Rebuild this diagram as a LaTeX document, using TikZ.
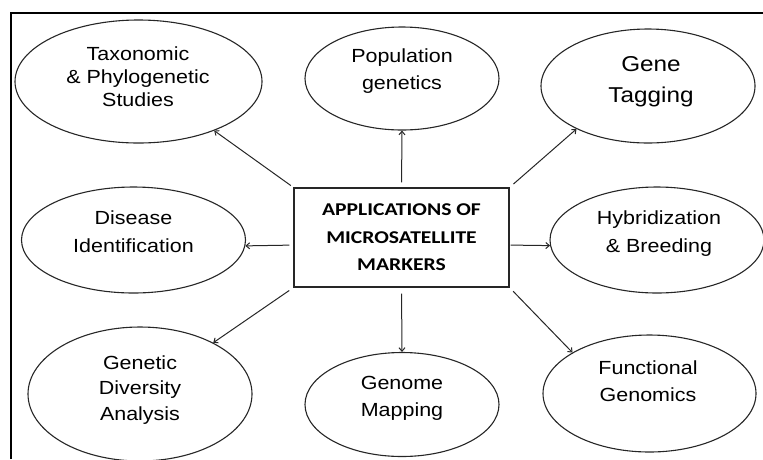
\documentclass[tikz,border=0pt]{standalone}
\usepackage{fontspec}
\usetikzlibrary{shapes.geometric, arrows.meta}
\newfontfamily\bubblefont{Liberation Sans}[FakeStretch=1.13]
\newfontfamily\hubfont{Carlito}[FakeStretch=1.2]

\tikzset{
  bubble/.style={ellipse, draw=black!85, line width=1.1pt, inner sep=0pt},
  bubbletext/.style={align=center, inner sep=0pt, text=black},
  hub/.style={rectangle, draw=black!85, line width=1.3pt, minimum width=215pt,
    minimum height=99pt, align=center, inner sep=0pt,
    font=\hubfont\bfseries\fontsize{18}{27.5}\selectfont},
  link/.style={->, line width=1pt, black!85},
}

\begin{document}
\begin{tikzpicture}[x=1pt, y=-1pt, >={Straight Barb[length=3.5pt,width=6pt]}]
  \useasboundingbox (0,0) rectangle (763,459);

  % ── Outer frame (top and left edges only) ──
  \draw[line width=1.4pt] (11,459) -- (11,13) -- (763,13);

  % ── Centre box ──
  \node[hub] (hub) at (401.5,237.5) {APPLICATIONS OF\\MICROSATELLITE\\MARKERS};

  % ── Application ellipses ──
  \foreach \nm/\cx/\cy/\rx/\ry in {
      tax/138.5/81.5/123.5/61.5,
      pop/402/78.5/97/51.5,
      gene/648/86/107/57,
      dis/133.5/240/112/53,
      hyb/657/240/107/53,
      div/140/394/112/67,
      map/402/404.5/97/52,
      fun/649.5/393.5/106.5/58.5} {
    \node[bubble, minimum width={2*\rx pt}, minimum height={2*\ry pt}] (\nm) at (\cx,\cy) {};
  }

  % ── Ellipse labels ──
  \foreach \nm/\tx/\ty/\fs/\lead/\txt in {
      tax/138/76.3/19/23/{Taxonomic\\\& Phylogenetic\\Studies},
      pop/402/71.5/19/27/{Population\\genetics},
      gene/651/82/21.5/31/{Gene\\Tagging},
      dis/133.5/232/19/28/{Disease\\Identification},
      hyb/659/234/19/28/{Hybridization\\\& Breeding},
      div/140/389.7/19/25.5/{Genetic\\Diversity\\Analysis},
      map/402/398.5/19/27/{Genome\\Mapping},
      fun/648/381.5/19/27/{Functional\\Genomics}} {
    \node[bubbletext, font=\bubblefont\fontsize{\fs}{\lead}\selectfont] (\nm-txt) at (\tx,\ty) {\txt};
  }

  % ── Arrows from centre box ──
  \draw[link, shorten <=3pt] (hub.north west) -- (tax.327);
  \draw[link, shorten <=5pt] (hub.north) -- (pop.south);
  \draw[link, shorten <=5pt] (hub.north east) -- (gene.211);
  \draw[link, shorten <=4pt] (hub.184) -- (dis.357);
  \draw[link, shorten <=1pt] (hub.356) -- (hyb.183);
  \draw[link, shorten <=5pt] (hub.south west) -- (div.35);
  \draw[link, shorten <=6pt] (hub.south) -- (map.north);
  \draw[link, shorten <=5pt] (hub.south east) -- (fun.152);
\end{tikzpicture}
\end{document}
